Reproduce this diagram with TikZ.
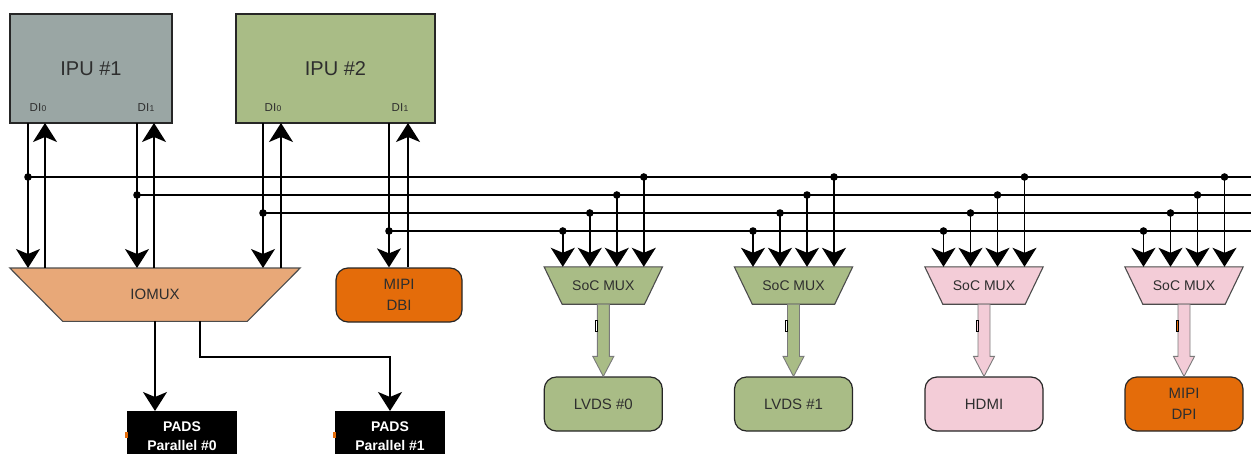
\documentclass[tikz,border=0pt]{standalone}
\usepackage{fontspec}
\setmainfont{Liberation Sans}
\usetikzlibrary{arrows.meta,calc,backgrounds}

\definecolor{ipugray}{HTML}{9AA6A4}
\definecolor{ipugreen}{HTML}{A9BC86}
\definecolor{iotan}{HTML}{E8A878}
\definecolor{mipiorange}{HTML}{E46C0A}
\definecolor{hdmipink}{HTML}{F3CCD7}
\definecolor{labeltext}{HTML}{2E2E2E}
\definecolor{fatedge}{HTML}{7A7A7A}

\tikzset{
  wire/.style={line width=1.6pt, black},
  sig/.style={wire, arrows={-Stealth[length=19pt, width=24pt, inset=5pt]}}}

% broad output arrow from a mux node to the block below it
\newcommand\fatarrow[3]{%
  \filldraw[fill=#3, draw=fatedge, line width=0.9pt, line join=miter]
    let \p1=(#1.south), \p2=(#2.north) in
    (\x1-6pt,\y1) -- (\x1-6pt,\y2+20pt) -- (\x1-10.5pt,\y2+20pt) -- (\x1,\y2)
    -- (\x1+10.5pt,\y2+20pt) -- (\x1+6pt,\y2+20pt) -- (\x1+6pt,\y1) -- cycle;}
% DI port label with a small index digit
\newcommand\diport[1]{DI\kern0.3pt{\fontsize{8.5}{9}\selectfont #1}}

\begin{document}
\begin{tikzpicture}[x=1pt,y=-1pt,
  ipubox/.style={draw=black!85, line width=1.5pt, inner sep=0pt,
    minimum height=109pt, text=labeltext, font=\fontsize{20}{24}\selectfont},
  dilabel/.style={text=labeltext, inner sep=0pt, font=\fontsize{11.5}{13}\selectfont},
  muxnode/.style={inner sep=0pt, minimum width=118pt, minimum height=37pt,
    text=labeltext, font=\fontsize{14}{16}\selectfont},
  muxline/.style={draw=black!70, line width=1.1pt},
  endbox/.style={draw=black!85, line width=1.2pt, rounded corners=12pt, inner sep=0pt,
    minimum width=118pt, minimum height=54pt, align=center, text=labeltext,
    font=\fontsize{15}{20.5}\selectfont},
  padsbox/.style={fill=black, anchor=north, inner sep=0pt, minimum width=110pt,
    minimum height=50pt, align=center, text=white, font=\bfseries\fontsize{14}{19}\selectfont},
  junction/.style={fill=black}]
\useasboundingbox (0,0) rectangle (1251,453);
\clip (0,0) rectangle (1251,453);

% display processors
\node[ipubox, fill=ipugray, minimum width=162pt] (ipu1) at (91,68.5) {IPU \#1};
\node[ipubox, fill=ipugreen, minimum width=199pt] (ipu2) at (335.5,68.5) {IPU \#2};
\node[dilabel] (ipu1di0) at (38,108) {\diport{0}};
\node[dilabel] (ipu1di1) at (146,108) {\diport{1}};
\node[dilabel] (ipu2di0) at (273,108) {\diport{0}};
\node[dilabel] (ipu2di1) at (400,108) {\diport{1}};

% pins on the lower edge of the IPUs
\coordinate (p1o) at (28,123);  \coordinate (p1i) at (45,123);
\coordinate (q1o) at (137,123); \coordinate (q1i) at (154,123);
\coordinate (p2o) at (263,123); \coordinate (p2i) at (281,123);
\coordinate (q2o) at (389,123); \coordinate (q2i) at (408,123);

% multiplexers and end blocks
\node[inner sep=0pt, minimum width=290pt, minimum height=53pt, text=labeltext,
  font=\fontsize{15}{17}\selectfont] (iomux) at (155,294.7) {IOMUX};
\node[endbox, fill=mipiorange, minimum width=126pt] (dbi) at (399,295) {MIPI\\DBI};

\node[muxnode] (m1) at (603.3,285.5) {SoC MUX};
\node[muxnode] (m2) at (793.5,285.5) {SoC MUX};
\node[muxnode] (m3) at (984,285.5) {SoC MUX};
\node[muxnode] (m4) at (1184,285.5) {SoC MUX};

\node[endbox, fill=ipugreen] (lvds0) at (603.3,404) {LVDS \#0};
\node[endbox, fill=ipugreen] (lvds1) at (793.5,404) {LVDS \#1};
\node[endbox, fill=hdmipink] (hdmi) at (984,404) {HDMI};
\node[endbox, fill=mipiorange] (dpi) at (1184,404) {MIPI\\DPI};

\node[padsbox] (pads0) at (182,411) {PADS\\Parallel \#0};
\node[padsbox] (pads1) at (390,411) {PADS\\Parallel \#1};
\fill[mipiorange] (125,432) rectangle (128,438);
\fill[mipiorange] (333,432) rectangle (336,438);

% trapezoid outlines behind the mux labels
\begin{scope}[on background layer]
  \filldraw[fill=iotan, muxline] (iomux.north west) -- (iomux.north east)
    -- ([xshift=-53pt]iomux.south east) -- ([xshift=53pt]iomux.south west) -- cycle;
  \foreach \n/\c in {m1/ipugreen, m2/ipugreen, m3/hdmipink, m4/hdmipink}
    \filldraw[fill=\c, muxline] (\n.north west) -- (\n.north east)
      -- ([xshift=-18pt]\n.south east) -- ([xshift=18pt]\n.south west) -- cycle;
\end{scope}

% display interface buses
\coordinate (bus1) at (28,177);  \coordinate (bus1e) at (1251,177);
\coordinate (bus2) at (137,195); \coordinate (bus2e) at (1251,195);
\coordinate (bus3) at (263,213); \coordinate (bus3e) at (1251,213);
\coordinate (bus4) at (389,231); \coordinate (bus4e) at (1251,231);
\foreach \k in {1,2,3,4} \draw[wire] (bus\k) -- (bus\k e);

% IPU outputs down to IOMUX / MIPI DBI, returns back up
\draw[sig] (p1o) -- (p1o |- iomux.north);
\draw[sig] (q1o) -- (q1o |- iomux.north);
\draw[sig] (p2o) -- (p2o |- iomux.north);
\draw[sig] (q2o) -- (q2o |- dbi.north);
\draw[sig] (p1i |- iomux.north) -- (p1i);
\draw[sig] (q1i |- iomux.north) -- (q1i);
\draw[sig] (p2i |- iomux.north) -- (p2i);
\draw[sig] (q2i |- dbi.north) -- (q2i);
\foreach \k in {1,2,3,4} \fill[junction] (bus\k) circle[radius=3.8pt];

% IOMUX to the parallel pads
\draw[sig] (iomux.south) -- (iomux.south |- pads0.north);
\draw[sig] ([xshift=45pt]iomux.south) -- ++(0,35.5) -| (pads1.north);

% bus taps into each SoC mux
\foreach \m in {m1,m2,m3,m4} {
  \foreach \dx/\k in {-40.5/4, -13.5/3, 13.5/2, 40.5/1} {
    \coordinate (tap-\m-\k) at ([xshift=\dx pt]\m.center |- bus\k);
    \draw[sig] (tap-\m-\k) -- (tap-\m-\k |- \m.north);
    \fill[junction] (tap-\m-\k) circle[radius=3.8pt];
  }
}

% mux outputs
\fatarrow{m1}{lvds0}{ipugreen}
\fatarrow{m2}{lvds1}{ipugreen}
\fatarrow{m3}{hdmi}{hdmipink}
\fatarrow{m4}{dpi}{hdmipink}
\foreach \m/\c in {m1/white, m2/white, m3/hdmipink, m4/mipiorange}
  \filldraw[fill=\c, draw=black, line width=0.6pt]
    ([xshift=-8pt,yshift=-16pt]\m.south) rectangle ([xshift=-6pt,yshift=-27pt]\m.south);
\end{tikzpicture}
\end{document}
